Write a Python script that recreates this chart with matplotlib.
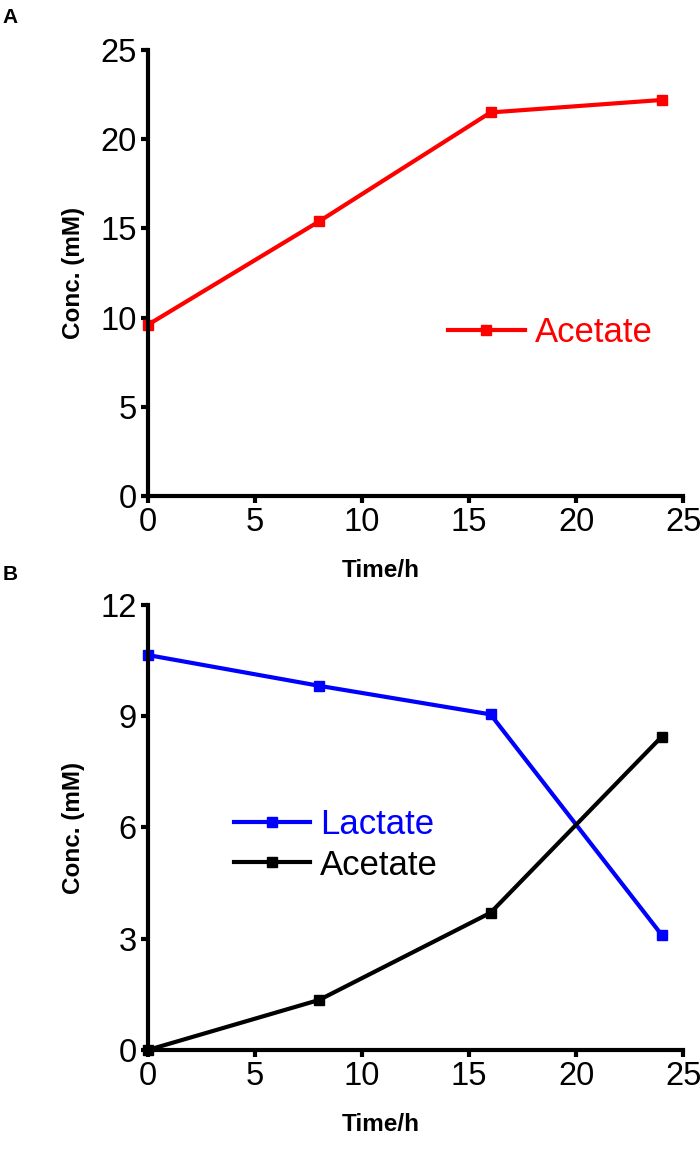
import matplotlib
matplotlib.use("Agg")
import matplotlib.pyplot as plt

plt.rcParams["font.family"] = ["Liberation Sans", "DejaVu Sans"]

time_h = [0, 8, 16, 24]
acetate_a = [9.6, 15.4, 21.5, 22.2]
lactate_b = [10.65, 9.82, 9.05, 3.1]
acetate_b = [0.0, 1.35, 3.7, 8.45]

x_ticks = [0, 5, 10, 15, 20, 25]
y_ticks_a = [0, 5, 10, 15, 20, 25]
y_ticks_b = [0, 3, 6, 9, 12]


def style_axes(ax, yticks):
    for side in ("top", "right"):
        ax.spines[side].set_visible(False)
    for side in ("left", "bottom"):
        ax.spines[side].set_linewidth(3)
    ax.set_xlim(0, 25)
    ax.set_ylim(yticks[0], yticks[-1])
    ax.set_xticks(x_ticks)
    ax.set_yticks(yticks)
    ax.tick_params(width=3, length=5, labelsize=23.5, pad=3)
    ax.set_xlabel("Time/h", fontsize=17.5, fontweight="bold")
    ax.set_ylabel("Conc. (mM)", fontsize=17.5, fontweight="bold")
    # pixel offsets converted to axes fractions
    h = ax.get_position().height * fig.get_figheight() * fig.dpi
    ax.xaxis.set_label_coords(0.434, -63 / h)
    ax.yaxis.set_label_coords(-0.117, 0.5)
    for line in ax.lines:
        line.set_clip_on(False)


fig = plt.figure(figsize=(7, 11.63), dpi=100)

ax_a = fig.add_axes([0.2114, 0.5735, 0.7646, 0.3835])
ax_a.plot(time_h, acetate_a, color="#ff0000", lw=3, marker="s", ms=6.5, label="Acetate")
style_axes(ax_a, y_ticks_a)
ax_a.legend(loc="center left", bbox_to_anchor=(0.561, 0.366), frameon=False,
            fontsize=25, handlelength=2.2, handletextpad=0.3, labelcolor="linecolor",
            borderaxespad=0, borderpad=0)

ax_b = fig.add_axes([0.2114, 0.0972, 0.7646, 0.3826])
ax_b.plot(time_h, lactate_b, color="#0000ff", lw=3, marker="s", ms=6.5, label="Lactate")
ax_b.plot(time_h, acetate_b, color="black", lw=3, marker="s", ms=6.5, label="Acetate")
style_axes(ax_b, y_ticks_b)
ax_b.legend(loc="center left", bbox_to_anchor=(0.16, 0.461), frameon=False,
            fontsize=25, handlelength=2.2, handletextpad=0.3, labelspacing=0.22,
            labelcolor="linecolor", borderaxespad=0, borderpad=0)

fig.text(0.004, 1 - 8 / 1163, "A", fontsize=15, fontweight="bold", va="top")
fig.text(0.004, 1 - 565 / 1163, "B", fontsize=15, fontweight="bold", va="top")

fig.savefig("out.png", dpi=100)
